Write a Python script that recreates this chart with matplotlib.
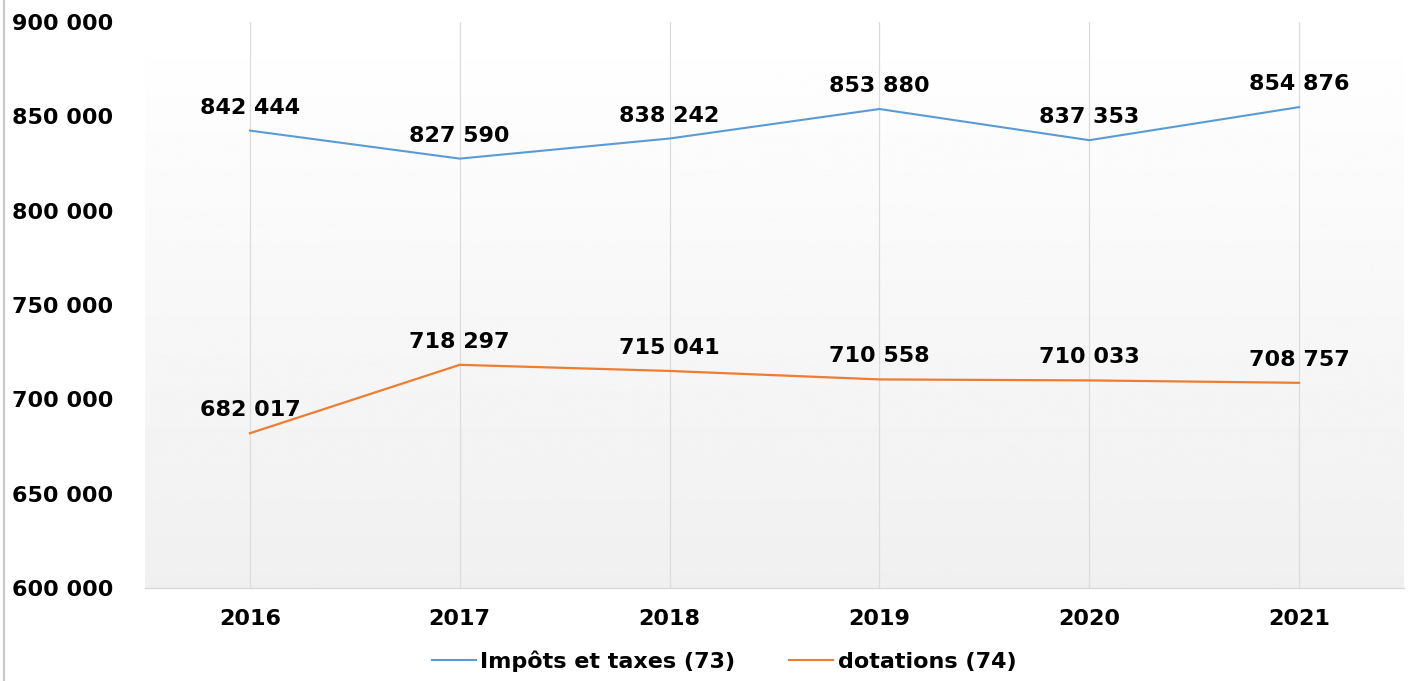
import numpy as np
import matplotlib
matplotlib.use('Agg')
import matplotlib.pyplot as plt
from matplotlib.lines import Line2D

plt.rcParams['font.family'] = ['DejaVu Sans']
plt.rcParams['font.weight'] = 'bold'

years = ['2016', '2017', '2018', '2019', '2020', '2021']
impots = [842444, 827590, 838242, 853880, 837353, 854876]
dotations = [682017, 718297, 715041, 710558, 710033, 708757]
yticks = [600000, 650000, 700000, 750000, 800000, 850000, 900000]

blue = '#5B9BD5'
orange = '#ED7D31'
fs = 16

fig = plt.figure(figsize=(14.18, 6.81), dpi=100)
ax = fig.add_axes([145/1418, 1 - 588/681, (1404-145)/1418, (588-22)/681])

x = np.arange(len(years))

# gradient background of the plot area (white at top, light grey at bottom)
grad = np.linspace(1.0, 0.94, 256).reshape(-1, 1)
ax.imshow(grad, extent=[0, 1, 0, 1], transform=ax.transAxes, aspect='auto',
          cmap='gray', vmin=0, vmax=1, zorder=0)

for xi in x:
    ax.axvline(xi, color='#dcdcdc', lw=0.9, zorder=1)

ax.plot(x, impots, color=blue, lw=1.5, zorder=3)
ax.plot(x, dotations, color=orange, lw=1.6, zorder=3)

def fmt(v):
    return '{:,}'.format(v).replace(',', ' ')

for xi, v in zip(x, impots):
    ax.annotate(fmt(v), (xi, v), xytext=(0, 16.5), textcoords='offset points',
                ha='center', va='center', fontsize=fs, fontweight='bold', zorder=4)
for xi, v in zip(x, dotations):
    ax.annotate(fmt(v), (xi, v), xytext=(0, 16.5), textcoords='offset points',
                ha='center', va='center', fontsize=fs, fontweight='bold', zorder=4)

ax.set_xlim(-0.5, len(years) - 0.5)
ax.set_ylim(600000, 900000)
ax.set_xticks(x)
ax.set_xticklabels(years, fontsize=fs, fontweight='bold')
ax.set_yticks(yticks)
ax.set_yticklabels([fmt(v) for v in yticks], fontsize=fs, fontweight='bold')
ax.tick_params(axis='both', length=0)
ax.tick_params(axis='x', pad=15)
ax.tick_params(axis='y', pad=0)
for lab in ax.get_yticklabels():
    lab.set_horizontalalignment('left')
    lab.set_x(-133/1259)

for s in ['top', 'right', 'left']:
    ax.spines[s].set_visible(False)
ax.spines['bottom'].set_color('#d9d9d9')
ax.spines['bottom'].set_linewidth(1.0)

handles = [Line2D([], [], color=blue, lw=1.5), Line2D([], [], color=orange, lw=1.5)]
fig.legend(handles, ['Impôts et taxes (73)', 'dotations (74)'], loc='center',
           bbox_to_anchor=(724/1418, 1 - 661/681), ncol=2, frameon=False,
           prop={'size': fs, 'weight': 'bold'}, handlelength=2.0, handletextpad=0.2,
           columnspacing=2.4)

fig.add_artist(Line2D([4/1418, 4/1418], [0, 1], color='#c8c8c8', lw=1.5,
                      transform=fig.transFigure))

fig.savefig('out.png', dpi=100)
